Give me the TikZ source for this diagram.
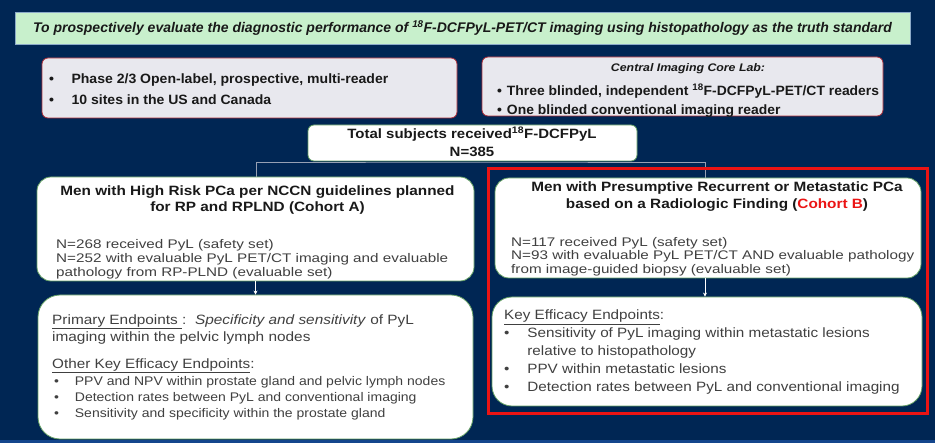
\documentclass[tikz,border=0pt]{standalone}
\usepackage{fontspec}
\setmainfont{Liberation Sans}
\usetikzlibrary{arrows.meta}
\definecolor{bg}{RGB}{0,38,84}
\definecolor{bottomstrip}{RGB}{20,70,140}
\definecolor{titlegreen}{RGB}{200,240,204}
\definecolor{titleborder}{RGB}{140,170,200}
\definecolor{greyfill}{RGB}{232,232,238}
\definecolor{darkred}{RGB}{175,45,55}
\definecolor{boxgreen}{RGB}{100,160,100}
\definecolor{bodygrey}{RGB}{64,64,64}
\definecolor{titleblack}{RGB}{25,25,25}
\definecolor{linegrey}{RGB}{150,160,180}
\definecolor{cohortred}{RGB}{235,20,20}
\tikzset{
  infobox/.style={draw=darkred, line width=0.8pt, fill=greyfill, rounded corners=6pt, inner sep=0pt},
  whitebox/.style={draw=boxgreen, line width=0.8pt, fill=white, inner sep=0pt},
  conn/.style={draw=linegrey, line width=0.7pt},
  arr/.style={draw=white, line width=0.8pt, -{Stealth[length=4pt,width=4pt]}},
  txt/.style={inner sep=0pt, text=bodygrey},
  ttl/.style={inner sep=0pt, text=titleblack, font=\bfseries\fontsize{13.5}{16.5}\selectfont},
}
\newcommand{\bul}[1]{\makebox[#1][l]{\textbullet}}
\newcommand{\sxl}[2]{\scalebox{#1}[1]{\begin{tabular}{@{}l@{}}#2\end{tabular}}}
\newcommand{\sxc}[2]{\scalebox{#1}[1]{\begin{tabular}{@{}c@{}}#2\end{tabular}}}
\begin{document}
\begin{tikzpicture}[x=1pt,y=-1pt]
\fill[bg] (0,0) rectangle (935,443);
\useasboundingbox (0,0) rectangle (935,443);
\fill[bottomstrip] (0,440) rectangle (935,443);

% title
\node[draw=titleborder, line width=0.6pt, fill=titlegreen, minimum width=895pt, minimum height=32pt, inner sep=0pt] (title) at (462.5,28) {};
\node[inner sep=0pt, text=titleblack, font=\bfseries\itshape\fontsize{14}{16}\selectfont] (titletxt) at (462.5,28) {To prospectively evaluate the diagnostic performance of \textsuperscript{18}F-DCFPyL-PET/CT imaging using histopathology as the truth standard};

% info boxes
\node[infobox, minimum width=415pt, minimum height=60pt] (phase) at (249.5,88) {};
\node[txt, anchor=west, text=titleblack, font=\bfseries\fontsize{13.5}{21}\selectfont] (phasetxt) at (49,89.5) {\sxl{1.04}{\bul{21.5pt}Phase 2/3 Open-label, prospective, multi-reader\\ \bul{21.5pt}10 sites in the US and Canada}};

\node[infobox, minimum width=401pt, minimum height=59pt] (core) at (682.5,86.5) {};
\node[inner sep=0pt, text=titleblack, font=\bfseries\itshape\fontsize{11}{12}\selectfont] (coretitle) at (688,69) {\scalebox{1.12}[1]{Central Imaging Core Lab:}};
\node[txt, anchor=west, text=titleblack, font=\bfseries\fontsize{13.5}{18.5}\selectfont] (coretxt) at (497,101.5) {\sxl{1.03}{\bul{9.5pt}Three blinded, independent \textsuperscript{18}F-DCFPyL-PET/CT readers\\ \bul{9.5pt}One blinded conventional imaging reader}};

% total
\node[whitebox, rounded corners=6pt, minimum width=329pt, minimum height=36pt] (total) at (472.5,143) {};
\node[ttl, font=\bfseries\fontsize{13.5}{18}\selectfont] (totaltxt) at (472,144) {\sxc{1.11}{Total subjects received\textsuperscript{18}F-DCFPyL\\N=385}};

% connectors
\coordinate (split) at (472.5,162);
\coordinate (lefttop) at (256,177);
\coordinate (righttop) at (705,178);
\draw[conn] (lefttop) |- (split) -| (righttop);

% red frame
\draw[draw=cohortred, line width=3pt] (488,169) rectangle (927,414);

% cohort A
\node[whitebox, rounded corners=14pt, minimum width=437pt, minimum height=104pt] (cohA) at (255.5,229) {};
\node[ttl] (cohAttl) at (257.5,200) {\sxc{1.135}{Men with High Risk PCa per NCCN guidelines planned\\for RP and RPLND (Cohort A)}};
\node[txt, anchor=west, font=\fontsize{12.5}{14}\selectfont] (cohAtxt) at (56,259.5) {\sxl{1.22}{N=268 received PyL (safety set)\\N=252 with evaluable PyL PET/CT imaging and evaluable\\pathology from RP-PLND (evaluable set)}};

% cohort B
\node[whitebox, rounded corners=14pt, minimum width=426pt, minimum height=100pt] (cohB) at (708,228) {};
\node[ttl] (cohBttl) at (717,196.5) {\sxc{1.135}{Men with Presumptive Recurrent or Metastatic PCa\\based on a Radiologic Finding ({\color{cohortred}Cohort B})}};
\node[txt, anchor=west, font=\fontsize{12.5}{13.5}\selectfont] (cohBtxt) at (511,257) {\sxl{1.22}{N=117 received PyL (safety set)\\N=93 with evaluable PyL PET/CT AND evaluable pathology\\from image-guided biopsy (evaluable set)}};

% endpoints A
\node[whitebox, rounded corners=22pt, minimum width=435pt, minimum height=144pt] (endA) at (255.5,367) {};
\node[txt, anchor=west, font=\fontsize{13.5}{17}\selectfont] (endAprim) at (52,329.5) {\sxl{1.14}{\underline{Primary Endpoints }:\ \ \textit{Specificity and sensitivity} of PyL\\imaging within the pelvic lymph nodes}};
\node[txt, anchor=west, font=\fontsize{13.5}{16.5}\selectfont] (endAother) at (52,365) {\sxl{1.13}{\underline{Other Key Efficacy Endpoints}:}};
\node[txt, anchor=west, font=\fontsize{12.5}{16}\selectfont] (endAlist) at (54,398) {\sxl{1.12}{\bul{18.5pt}PPV and NPV within prostate gland and pelvic lymph nodes\\ \bul{18.5pt}Detection rates between PyL and conventional imaging\\ \bul{18.5pt}Sensitivity and specificity within the prostate gland}};

% endpoints B
\node[whitebox, rounded corners=20pt, minimum width=430pt, minimum height=109pt] (endB) at (707,351.5) {};
\node[txt, anchor=west, font=\fontsize{13.5}{18}\selectfont] (endBtxt) at (504,352) {\sxl{1.13}{\underline{Key Efficacy Endpoints}:\\ \bul{20.5pt}Sensitivity of PyL imaging within metastatic lesions\\ \hspace*{20.5pt}relative to histopathology\\ \bul{20.5pt}PPV within metastatic lesions\\ \bul{20.5pt}Detection rates between PyL and conventional imaging}};

% arrows
\draw[arr] (cohA.south) -- (endA.north);
\draw[arr] (cohB.south -| righttop) -- (endB.north -| righttop);
\end{tikzpicture}
\end{document}
